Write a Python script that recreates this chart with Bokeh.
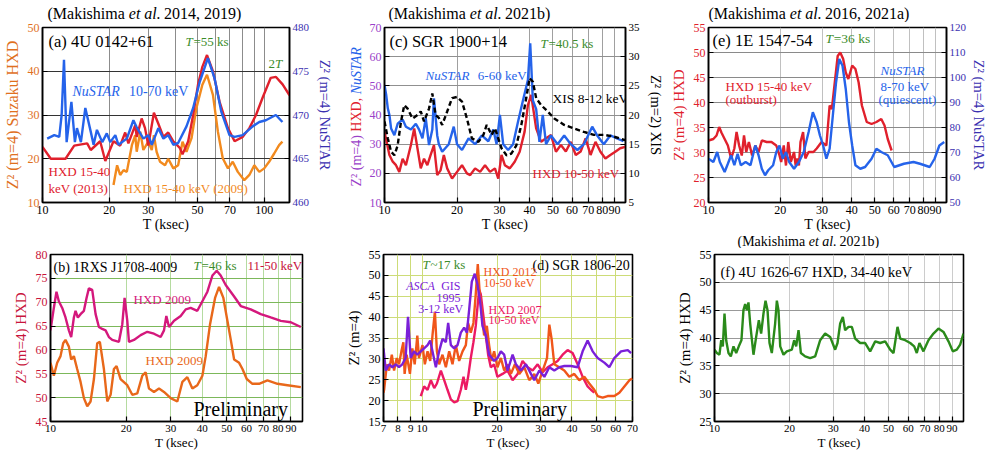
import math
from bokeh.plotting import figure
from bokeh.models import Range1d, LinearAxis, FixedTicker, PrintfTickFormatter, Label
from bokeh.layouts import column, row
from bokeh.embed import file_html
from bokeh.resources import INLINE

FONT = "Liberation Serif"

# ---------------- data ----------------
# (a) 4U 0142+61
A_RED_T = [10, 10.9, 12.7, 13.9, 15.9, 16.5, 18.2, 19.2, 20.9, 22.4, 23.6, 24.4, 26.2, 26.6, 28, 29, 30, 31.8, 33.3, 35.1,
           36.9, 38.9, 41.6, 42.8, 45.4, 47.8, 50.3, 52.6, 55.2, 58.7, 62.9, 68.6, 73.5, 80, 85.7, 91.8, 98.4, 107, 113, 121, 130]
A_RED = [22.7, 20, 20, 23, 23.5, 22, 24, 19.5, 24, 23, 26, 23.5, 27.7, 25, 29.2, 27, 23, 30.5, 28, 25,
         26, 24, 22.5, 21, 24, 30, 37, 41, 43.7, 40, 33, 27, 24, 25, 27, 30, 34, 38.5, 38.7, 37, 34.5]
A_BLUE_T = [10.5, 11.3, 11.9, 12.2, 12.5, 12.85, 13.5, 14.0, 14.3, 14.9, 15.6, 16.5, 17.0, 17.6, 18.6, 19.5, 20.2, 21.3, 22.0, 24.0,
            25.7, 26.6, 28.5, 30.0, 31.1, 33.3, 35.1, 36.9, 38.9, 40.9, 44.6, 47.8, 51.2, 55.7, 59.7, 64.0, 69.7, 73.5, 80, 88.7,
            95.0, 101.7, 112.8, 120.8]
A_BLUE = [467.3, 467.7, 467.5, 470, 476.3, 466.9, 471.5, 466.9, 468.5, 466.9, 470.8, 468.1, 466.6, 468.3, 466.9, 467.9, 466.9, 467.7, 466.6, 467.3,
          469.4, 468.6, 467.3, 467.7, 466.6, 468.5, 467.3, 467.7, 466.6, 466.8, 468.7, 470.8, 473.8, 476.5, 474.2, 470.4, 467.7, 467.5, 467.7, 468.7,
          469.2, 469.4, 470.0, 469.2]
A_ORG_T = [20.9, 21.7, 22.4, 23.2, 24.0, 25.3, 26.2, 26.6, 27.6, 28.5, 30.0, 31.1, 31.8, 32.7, 33.9, 35.7, 36.9, 38.9, 40.9, 42.8,
           44.6, 47.0, 49.4, 52.6, 55.2, 58.7, 61.8, 65.0, 68.6, 72.1, 76.0, 81.3, 85.7, 90.2, 95.0, 100, 105.2, 110.9, 116.7, 120.8]
A_ORG = [14, 18.5, 16.3, 17.4, 17, 23.1, 25.4, 21.6, 26.2, 22, 23.9, 22, 25.4, 21.6, 19.3, 18.5, 20, 17.8, 18.5, 23.9,
         21.6, 24.7, 31.5, 36.9, 39.2, 34.6, 26.2, 20.1, 17.8, 19.3, 17, 15.1, 16.3, 18.5, 17, 17.8, 19.3, 21.2, 23.1, 23.9]

# (c) SGR 1900+14
C_BLUE_T = [10.0, 10.16, 10.32, 10.48, 10.65, 10.99, 11.34, 11.89, 12.27, 12.87, 13.49, 13.92, 14.37, 14.83, 15.30, 15.79, 16.04, 16.55, 16.81, 17.35,
            18.48, 19.38, 20.0, 20.97, 22.33, 23.77, 25.33, 26.97, 28.28, 29.18, 30.12, 31.08, 32.58, 34.16, 35.81, 37.54, 39.36, 40.24, 41.27, 42.59,
            43.95, 45.36, 46.81, 49.07, 52.27, 55.67, 59.29, 63.14, 67.24, 72.75, 76.28, 81.24, 86.50, 92.16, 98.13]
C_BLUE = [50.3, 47, 42.3, 40, 35.4, 33.1, 37, 38.5, 36, 35, 37, 35, 32, 38.9, 29.7, 35, 45.7, 33, 30, 27.4,
          30, 36, 30, 28, 32, 30, 33, 31, 35, 30, 40, 30, 28, 30, 37.7, 45, 52, 64.6, 45, 42,
          30.8, 40, 30, 33, 30, 33, 30, 28, 30, 36, 33, 30, 33, 32, 31]
C_RED_T = [10.0, 10.48, 10.82, 11.16, 11.52, 11.89, 12.27, 12.87, 13.28, 13.70, 14.14, 14.59, 15.06, 15.54, 16.04, 16.55, 17.08, 17.63, 18.20, 19.07,
           20.0, 20.97, 21.98, 22.68, 23.77, 24.93, 26.13, 27.40, 28.73, 29.65, 30.59, 31.57, 33.10, 34.70, 36.38, 38.14, 39.36, 40.62, 41.27, 42.59,
           44.65, 46.81, 49.07, 51.45, 53.94, 56.55, 59.29, 62.15, 65.16, 68.31, 71.61, 75.08, 78.71, 82.53, 86.50, 90.71, 95.08, 99.68]
C_RED = [34.3, 26.3, 24, 22.8, 20.5, 25, 22.8, 29.7, 35.4, 28.6, 21.7, 25, 22.8, 26.3, 29.7, 19.4, 21, 26.3, 21.7, 18.2,
         20.5, 22.8, 20, 19.4, 21.7, 20.5, 22.8, 20.5, 21.7, 18.2, 26.3, 22.8, 21.7, 24, 27.4, 34.3, 43.4, 46.9, 43, 35.4,
         30.8, 32, 33.1, 27.4, 29.7, 27.5, 30.8, 26.3, 27.5, 32, 26.3, 30.8, 27.4, 25.1, 26.3, 27.4, 28.6, 29.1]
C_XIS_T = [10.0, 10.32, 10.65, 10.99, 11.34, 11.71, 12.08, 12.47, 13.07, 13.70, 14.14, 14.59, 15.30, 15.79, 16.29, 16.81, 17.35, 18.20, 19.07, 20.0,
           20.97, 21.98, 23.04, 24.54, 25.73, 26.55, 27.83, 28.73, 29.65, 30.59, 32.08, 33.63, 35.25, 36.96, 38.74, 40.0, 41.27, 42.59, 44.65, 47.55,
           50.64, 55.67, 61.18, 67.24, 73.91, 81.24, 89.29, 99.68]
C_XIS = [18.9, 16, 13.7, 13.1, 14.8, 18.9, 21.7, 21.1, 19.4, 20, 20.6, 18.9, 21.1, 23.7, 20, 19.5, 18.3, 20.6, 22.9, 23.1,
         22.3, 19.4, 16, 15.4, 16.6, 18.3, 16.6, 17.7, 16, 14.3, 13.1, 13.4, 14.8, 18.3, 22.9, 26.3, 25.7, 22.9, 21.7, 20.6,
         19.4, 18.3, 17.7, 17.1, 16.6, 16.6, 16.3, 15.7]

# (e) 1E 1547-54
E_RED_T = [10, 10.48, 10.81, 11.09, 11.33, 11.69, 12.06, 12.45, 12.84, 13.12, 13.45, 13.80, 14.10, 14.41, 14.78, 15.25, 15.73, 16.23, 16.75, 17.55,
           18.39, 19.27, 19.88, 20.20, 20.71, 21.16, 21.63, 22.18, 22.88, 23.24, 23.61, 23.98, 24.35, 24.97, 25.53, 26.34, 27.61, 28.48, 29.86, 31.28,
           32.28, 32.99, 33.82, 34.90, 35.78, 36.80, 37.73, 38.68, 40.16, 41.43, 42.74, 44.11, 46.22, 48.43, 50.76, 53.20, 54.90, 56.64, 58.81]
E_RED = [32.4, 32.7, 33.4, 35.1, 34, 32.7, 31.4, 28.8, 30.8, 34.1, 31.4, 29.4, 33.4, 30.1, 32.1, 29.4, 31.4, 30.1, 32.4, 32.1,
         32.1, 31.4, 29.4, 28.1, 31.4, 27.4, 32.1, 28.1, 30.1, 27.4, 28.8, 27.4, 32.1, 34.1, 28.8, 30.1, 30.1, 30.8, 32.1, 31.4,
         39.4, 38.7, 43.4, 49.3, 50.0, 48.7, 46, 44.7, 47.4, 46.7, 44, 39.4, 36.1, 35.7, 36.1, 36.7, 35.4, 32.7, 30.4]
E_BLUE_T = [10, 10.48, 10.88, 11.16, 11.69, 12.06, 12.45, 12.84, 13.25, 13.67, 14.32, 15.01, 15.73, 16.23, 16.75, 17.28, 17.82, 18.68, 19.27, 19.88,
            20.51, 21.16, 21.83, 22.88, 23.98, 25.13, 26.34, 27.44, 28.48, 29.39, 30.32, 31.28, 32.28, 33.30, 34.36, 35.45, 36.57, 37.73, 38.92, 40.16,
            41.43, 43.42, 45.50, 48.43, 50.76, 53.20, 56.64, 60.30, 66.22, 72.70, 77.38, 85.00, 89.09, 93.35, 97.84]
E_BLUE = [67.5, 66.2, 70.2, 66.2, 62.2, 65.5, 68.9, 64.9, 69.5, 64.9, 66.2, 64.9, 72.8, 68.9, 63.5, 60.9, 62.9, 64.9, 70.2, 72.8,
          67.5, 70.2, 66.2, 63.5, 66.2, 70.2, 78.2, 86.1, 82.1, 76.8, 72.8, 67.5, 71.5, 84.8, 98.1, 107.4, 104.7, 95.4, 82.1, 72.8,
          64.9, 63.5, 64.2, 67.5, 71.5, 70.2, 68.9, 64.2, 65.5, 66.2, 65.5, 64.2, 67.5, 72.8, 74.2]

# (b) 1RXS J1708-4009
B_MAG_T = [10, 10.31, 10.56, 10.79, 11.13, 11.47, 11.83, 12.08, 12.38, 12.57, 12.84, 13.16, 13.57, 13.90, 14.20, 14.64, 15.10, 15.56, 16.04, 16.54,
           17.05, 17.58, 18.69, 19.27, 19.68, 20.17, 20.48, 21.44, 22.79, 24.22, 25.74, 27.36, 28.21, 28.82, 29.53, 30.92, 32.86, 34.40, 35.99, 38.25,
           40.06, 41.94, 43.90, 45.67, 47.36, 49.58, 53.54, 56.89, 62.31, 68.29, 74.82, 82.03, 89.87, 98.49]
B_MAG = [64.1, 68.8, 72.2, 70.2, 68.8, 66.8, 64.1, 62.7, 66.8, 68.2, 66.8, 67.5, 68.2, 70.9, 72.9, 72.6, 67.5, 64.8, 64.4, 64.1,
         62.7, 62.1, 61.7, 65.4, 70.9, 66.1, 61.7, 62.1, 63.1, 63.8, 63.4, 62.7, 64.1, 67.1, 64.8, 66.1, 67.1, 68.5, 68.8, 68.2,
         70.2, 72.2, 75.6, 76.6, 75.6, 73.6, 71.2, 69.2, 68.5, 67.5, 66.8, 66.1, 65.8, 64.8]
B_ORG_T = [10, 10.31, 10.63, 10.96, 11.23, 11.47, 11.83, 12.08, 12.38, 12.76, 13.16, 13.57, 13.99, 14.42, 14.87, 15.32, 15.70, 16.29, 16.80, 17.32,
           17.85, 18.29, 18.97, 20.17, 21.11, 22.10, 23.14, 23.85, 24.59, 25.74, 26.95, 28.21, 29.99, 31.87, 33.37, 34.91, 36.55, 38.25, 40.06, 41.30,
           42.97, 44.98, 46.65, 48.53, 50.35, 51.94, 53.54, 56.04, 57.77, 60.09, 63.27, 67.25, 72.58, 79.56, 87.18, 98.49]
B_ORG = [57.3, 54.6, 57.3, 58.7, 61.4, 62.1, 60.7, 58.0, 58.7, 56.0, 53.3, 49.9, 48.2, 49.2, 53.9, 61.4, 61.7, 56.0, 49.2, 50.6,
         56.0, 56.6, 53.9, 52.6, 50.6, 50.9, 54.6, 55.3, 51.9, 51.2, 51.9, 51.2, 49.9, 49.2, 53.3, 54.3, 51.9, 52.6, 54.6, 58.7,
         65.4, 70.9, 73.2, 70.9, 66.1, 62.1, 58.0, 57.3, 56.0, 53.9, 52.9, 52.9, 53.6, 52.9, 52.6, 52.2]

# (d) SGR 1806-20
D_PUR_T = [7.0, 7.15, 7.37, 7.60, 7.84, 8.08, 8.33, 8.59, 8.78, 9.00, 9.28, 9.57, 9.88, 10.19, 10.52, 10.78, 11.01, 11.36, 11.71, 12.08,
           12.46, 12.73, 13.05, 13.46, 13.88, 14.31, 14.76, 15.13, 15.45, 15.84, 16.28, 16.69, 17.10, 17.48, 18.03, 18.59, 19.47, 20.08, 20.72, 21.37,
           22.04, 23.10, 23.82, 24.94, 26.13, 27.37, 28.23, 29.57, 30.98, 32.44, 33.96, 35.57, 37.26, 39.61, 42.14, 44.14, 46.22, 48.42, 50.71, 53.94,
           56.48, 59.17, 62.93, 67.01, 69.10]
D_PUR = [32.5, 27.2, 28.7, 28, 28.7, 28, 28.7, 30.2, 40.1, 30.2, 31.8, 31, 31.8, 32.5, 33.3, 34.4, 31.8, 28, 31.8, 34.8,
         34, 38.6, 33.3, 32.5, 33.3, 36.3, 37.5, 36.3, 41.7, 48.5, 50.4, 47.8, 43.9, 37.9, 35.6, 31, 29.5, 30.2, 31.8, 31,
         27.2, 31, 28.7, 27.2, 28.7, 26.4, 24.9, 27.2, 25.7, 28, 27.2, 28, 28.3, 28.3, 28, 31.8, 34.4, 31.8, 30.2, 29.1,
         28, 30.2, 31.8, 32.1, 31.4]
D_ORG_T = [7.0, 7.04, 7.22, 7.37, 7.56, 7.72, 7.91, 8.08, 8.26, 8.41, 8.51, 8.67, 8.94, 9.14, 9.34, 9.57, 9.72, 10.04, 10.26, 10.52,
           10.78, 11.01, 11.26, 11.47, 11.71, 12.08, 12.46, 12.85, 13.25, 13.66, 14.09, 14.54, 14.99, 15.31, 15.69, 16.08, 16.43, 16.74, 17.05, 17.37,
           17.75, 18.20, 18.59, 19.00, 19.47, 20.08, 20.72, 21.37, 22.04, 22.74, 23.60, 24.56, 25.73, 26.95, 28.23, 29.30, 30.50, 31.75, 32.44, 33.13,
           33.96, 35.57, 37.26, 39.01, 40.86, 42.80, 44.83, 46.94, 49.16, 50.71, 53.11, 55.62, 59.17, 61.97, 64.94, 68.05, 70.0]
D_ORG = [21.9, 22.6, 28.7, 27.2, 31, 27.2, 30.2, 28.7, 31.8, 34, 26.4, 31, 26.4, 32.5, 28.7, 35.6, 30.2, 33.3, 28.7, 31.8,
         29.5, 35.6, 41.3, 31.8, 28.7, 31, 28, 31.8, 28.7, 33.3, 29.5, 31.8, 33.3, 38.6, 36.3, 38.6, 45.5, 52.7, 45.5, 40.9,
         35.6, 37.9, 33.3, 29.5, 31.8, 28, 30.2, 27.2, 28.7, 26.4, 28.7, 26.4, 28, 24.9, 26.4, 24.1, 27.2, 30.2, 38.2, 34.8,
         28.7, 28, 27.2, 25.7, 26.4, 24.9, 25.7, 24.1, 22.6, 21.1, 20.7, 21.1, 21.1, 21.9, 23.4, 24.9, 25.3]
D_PINK_T = [9.88, 10.19, 10.52, 10.85, 11.19, 11.47, 11.90, 12.27, 12.65, 13.05, 13.46, 13.88, 14.31, 14.67, 14.99, 15.31, 15.69, 16.08, 16.43, 16.69,
            16.95, 17.21, 17.58, 18.03, 18.42, 18.88, 19.47, 20.08, 21.04, 22.04, 23.10, 24.19, 25.33, 26.54, 27.80, 29.12, 30.50, 31.94, 33.44, 35.02,
            36.69, 38.41, 40.23, 42.14, 44.14, 46.22, 47.67, 49.16]
D_PINK = [21.1, 23.4, 22.6, 24.9, 23, 24.1, 27.2, 24.9, 22.6, 20.3, 19.6, 19.9, 22.6, 25.7, 22.6, 25.7, 30.2, 34, 37.9, 42.4,
          46.6, 45.5, 40.9, 35.6, 31, 28, 28.7, 25.7, 26.4, 27.2, 24.9, 26.4, 29.5, 28, 27.2, 28.7, 26.8, 28, 28.7, 29.5,
          31, 32.1, 31.4, 28.7, 25.7, 23.4, 22.6, 21.9]

# (f) 4U 1626-67
F_T = [10, 10.22, 10.47, 10.64, 10.80, 10.97, 11.14, 11.38, 11.63, 11.92, 12.22, 12.52, 12.83, 13.07, 13.28, 13.49, 13.69, 13.91, 14.34, 14.70,
       15.07, 15.39, 15.73, 16.03, 16.33, 16.63, 16.99, 17.52, 17.80, 18.07, 18.36, 18.93, 19.52, 20.44, 20.89, 21.28, 21.75, 22.23, 23.12, 24.22,
       25.37, 26.57, 27.82, 29.14, 30.52, 31.19, 31.97, 32.77, 33.47, 34.53, 35.61, 36.73, 38.46, 40.28, 42.19, 44.20, 46.28, 48.47, 50.76, 52.35,
       54.32, 55.69, 58.33, 61.09, 63.39, 64.92, 66.54, 69.04, 72.31, 75.74, 79.33, 83.10, 87.03, 90.60, 94.02, 96.96, 100]
F_Z = [37.9, 37.3, 37, 39.6, 38.5, 44.4, 39.6, 37.3, 36.7, 38.5, 37.3, 38.5, 39.6, 45, 46.1, 45, 46.4, 42.6, 37, 40.2,
       43.2, 40.8, 44.4, 46.7, 45, 39.1, 37.3, 42.6, 46.7, 45, 38.5, 37, 37.6, 37.9, 39.6, 38.5, 41.4, 37.3, 36.7, 36.4,
       36.7, 39.6, 40.8, 40.2, 37.9, 39.1, 42.6, 43.8, 41.4, 42, 42, 39.9, 39.1, 39.1, 37.6, 39.4, 39.1, 39.4, 37.9, 37.3,
       42, 39.9, 39.6, 39.1, 38.5, 37.3, 39.1, 37.6, 39.6, 40.8, 41.7, 41.1, 39.4, 37.6, 37.9, 38.8, 40.8]

# tick values
XT_A = [10, 20, 30, 50, 70, 100]
XT_STD = [10, 20, 30, 40, 50, 60, 70, 80, 90]
XT_D = [7, 8, 9, 10, 20, 30, 40, 50, 60, 70]
YT_A_L = [10, 20, 30, 40, 50]
YT_A_R = [460, 465, 470, 475, 480]
YT_C_L = [10, 20, 30, 40, 50, 60, 70]
YT_C_R = [5, 10, 15, 20, 25, 30, 35]
YT_E_L = [20, 25, 30, 35, 40, 45, 50, 55]
YT_E_R = [50, 60, 70, 80, 90, 100, 110, 120]
YT_B = [45, 50, 55, 60, 65, 70, 75, 80]
YT_D = [15, 20, 25, 30, 35, 40, 45, 50, 55]
YT_F = [25, 30, 35, 40, 45, 50, 55]

# ---------------- colours ----------------
K = "black"
RED = "#e0202c"
BLUE = "#2563ea"
ORANGE = "#f28a1e"
INDIGO = "#3a30b0"
ORANGE_T = "#e0701e"
PURPLE_T = "#9a40c8"
GREEN = "#3a8c2a"
MAGENTA = "#d4187c"
ORANGE_B = "#e8681a"
CRIMSON = "#c8143c"
PURPLE_D = "#7a20d8"
ORANGE_D = "#f0561a"
PINK_D = "#ec1a64"
GREEN_F = "#2a8a1a"

WID = {' ': 250, '(': 333, ')': 333, ',': 250, '.': 250, '-': 333, '=': 564, '+': 564, '~': 541, '²': 300,
       'A': 722, 'C': 667, 'D': 722, 'E': 611, 'G': 722, 'H': 722, 'I': 333, 'J': 389, 'M': 889, 'N': 722,
       'P': 556, 'R': 667, 'S': 556, 'T': 611, 'U': 722, 'X': 722, 'Z': 611,
       'a': 444, 'b': 500, 'c': 444, 'd': 500, 'e': 444, 'f': 333, 'h': 500, 'i': 278, 'k': 500, 'l': 278,
       'm': 778, 'n': 500, 'o': 500, 'p': 500, 'r': 333, 's': 389, 't': 278, 'u': 500, 'v': 500, 'y': 500, 'z': 444}


def tw(s, size):
    return sum(WID.get(ch, 500) for ch in s) * size / 1000.0


def put(p, sx, sy, parts, size, angle=0.0, align="left"):
    total = sum(tw(t, size) for t, _, _ in parts)
    off = {"left": 0.0, "center": -total / 2, "right": -total}[align]
    for t, col, st in parts:
        s = t.strip()
        lead = tw(t[:len(t) - len(t.lstrip())], size)
        if s:
            if angle:
                x, y = sx, sy + off + lead
            else:
                x, y = sx + off + lead, sy
            p.add_layout(Label(x=x, y=y, x_units="screen", y_units="screen", text=s,
                               text_font=FONT, text_font_size=f"{size}px", text_color=col,
                               text_font_style=st, text_align="left", text_baseline="middle",
                               angle=angle))
        off += tw(t, size)


def blank(w, h):
    p = figure(width=w, height=h, x_range=Range1d(0, 1), y_range=Range1d(0, 1),
               output_backend="svg", toolbar_location=None,
               x_axis_location=None, y_axis_location=None,
               min_border_left=0, min_border_right=0, min_border_top=0, min_border_bottom=0)
    p.outline_line_color = None
    p.xgrid.visible = False
    p.ygrid.visible = False
    p.background_fill_color = "white"
    p.border_fill_color = "white"
    return p


def style_axis(ax, color, label="", label_color=K, tick_size="12px", label_size="15px", lstand=3):
    ax.axis_label = label
    ax.axis_label_text_font = FONT
    ax.axis_label_text_font_size = label_size
    ax.axis_label_text_font_style = "normal"
    ax.axis_label_text_color = label_color
    ax.axis_label_standoff = lstand
    ax.major_label_text_font = FONT
    ax.major_label_text_font_size = tick_size
    ax.major_label_text_color = color
    ax.major_label_standoff = 3
    ax.major_tick_in = 5
    ax.major_tick_out = 0
    ax.minor_tick_in = 0
    ax.minor_tick_out = 0
    ax.axis_line_color = K
    ax.axis_line_width = 1.5
    ax.major_tick_line_color = K
    ax.major_tick_line_width = 1.2


def panel(w, h, borders, xr, yr, xt, yt, xg, yg, xgc, ygc, ytc, ylab, ylabc, ylab_size="15px",
          xtick_size="12px", xlab_size="14px"):
    l, r, t, b = borders
    p = figure(width=w, height=h, x_axis_type="log", x_range=Range1d(*xr), y_range=Range1d(*yr),
               output_backend="svg", toolbar_location=None,
               min_border_left=l, min_border_right=r, min_border_top=t, min_border_bottom=b)
    p.background_fill_color = "white"
    p.border_fill_color = "white"
    p.outline_line_color = K
    p.outline_line_width = 1.6
    p.outline_line_alpha = 1.0
    p.xaxis.ticker = FixedTicker(ticks=xt, minor_ticks=[])
    p.xaxis.formatter = PrintfTickFormatter(format="%d")
    p.yaxis.ticker = FixedTicker(ticks=yt, minor_ticks=[])
    style_axis(p.xaxis[0], K, "T (ksec)", K, tick_size=xtick_size, label_size=xlab_size, lstand=0)
    style_axis(p.yaxis[0], ytc, ylab, ylabc, label_size=ylab_size, lstand=4)
    p.xgrid.ticker = FixedTicker(ticks=xg, minor_ticks=[])
    p.ygrid.ticker = FixedTicker(ticks=yg, minor_ticks=[])
    p.xgrid.grid_line_color = xgc
    p.ygrid.grid_line_color = ygc
    p.xgrid.grid_line_width = 1
    p.ygrid.grid_line_width = 1
    return p


def right_axis(p, rng, ticks, color, label, label_color, lstand=4):
    p.extra_y_ranges = {"r": Range1d(*rng)}
    ax = LinearAxis(y_range_name="r", ticker=FixedTicker(ticks=ticks, minor_ticks=[]))
    style_axis(ax, color, label, label_color, tick_size="11px", label_size="14.5px", lstand=lstand)
    p.add_layout(ax, "right")
    return ax


LW = 2.4
TOP_H = 212   # page y 22..234
BOT_H = 204   # page y 248..452

# ---------------- title strip (top) ----------------
tstrip = blank(990, 22)
put(tstrip, 47, 9.5, [("(Makishima ", K, "normal"), ("et al.", K, "italic"), (" 2014, 2019)", K, "normal")], 16)
put(tstrip, 388, 9.5, [("(Makishima ", K, "normal"), ("et al.", K, "italic"), (" 2021b)", K, "normal")], 16)
put(tstrip, 708, 9.5, [("(Makishima ", K, "normal"), ("et al.", K, "italic"), (" 2016, 2021a)", K, "normal")], 16)

# ---------------- (a) ----------------
pa = panel(336, TOP_H, (42, 44, 5, 32), (10, 130), (10, 50), XT_A, YT_A_L,
           [20, 30, 40, 50, 60, 70, 80, 90, 100], [20, 30, 40], "#8c8c8c", "#333333",
           ORANGE_T, "Z² (m=4) Suzaku HXD", ORANGE_T, ylab_size="16px")
right_axis(pa, (460, 480), YT_A_R, INDIGO, "Z² (m=4) NuSTAR", INDIGO, lstand=5)
pa.line(A_ORG_T, A_ORG, line_color=ORANGE, line_width=LW)
pa.line(A_RED_T, A_RED, line_color=RED, line_width=LW)
pa.line(A_BLUE_T, A_BLUE, line_color=BLUE, line_width=LW, y_range_name="r")
put(pa, 6, 161, [("(a) 4U 0142+61", K, "normal")], 16.5)
put(pa, 143, 161, [("T", GREEN, "italic"), ("=55 ks", GREEN, "normal")], 13)
put(pa, 226, 139, [("2", GREEN, "normal"), ("T", GREEN, "italic")], 13)
put(pa, 30, 111, [("NuSTAR", BLUE, "italic"), (" 10-70 keV", BLUE, "normal")], 14)
put(pa, 6, 31, [("HXD 15-40", RED, "normal")], 13)
put(pa, 6, 14, [("keV (2013)", RED, "normal")], 13)
put(pa, 81, 14, [("HXD 15-40 keV (2009)", ORANGE, "normal")], 13)

# ---------------- strip with the multi-coloured label of (c) ----------------
cstrip = blank(30, TOP_H)
put(cstrip, 20, 16, [("Z² (m=4) ", PURPLE_T, "normal"), ("HXD, ", RED, "normal"), ("NuSTAR", BLUE, "italic")],
    14, angle=math.pi / 2)

# ---------------- (c) ----------------
pc = panel(300, TOP_H, (16, 39, 5, 32), (10, 100), (10, 70), XT_STD, YT_C_L,
           [20, 30, 40, 50, 60, 70, 80, 90], [20, 30, 40, 50, 60], "#a0a0a0", "#909090",
           PURPLE_T, "", K)
right_axis(pc, (5, 35), YT_C_R, K, "Z² (m=2) XIS", K, lstand=5)
pc.line(C_RED_T, C_RED, line_color=RED, line_width=LW)
pc.line(C_BLUE_T, C_BLUE, line_color=BLUE, line_width=LW)
pc.line(C_XIS_T, C_XIS, line_color=K, line_width=LW, line_dash="5 3", y_range_name="r")
put(pc, 5, 161, [("(c) SGR 1900+14", K, "normal")], 16.5)
put(pc, 156, 159, [("T", GREEN, "italic"), ("=40.5 ks", GREEN, "normal")], 13)
put(pc, 41, 127, [("NuSTAR", BLUE, "italic"), (" 6-60 keV", BLUE, "normal")], 13)
put(pc, 168, 104, [("XIS 8-12 keV", K, "normal")], 13.5)
put(pc, 148, 29, [("HXD 10-50 keV", RED, "normal")], 13)

# ---------------- (e) ----------------
pe = panel(324, TOP_H, (42, 37, 5, 32), (10, 100), (20, 55), XT_STD, YT_E_L,
           [20, 30, 40, 50, 60, 70, 80, 90], [25, 30, 35, 40, 45, 50], "#c0c0c0", "#8a8a8a",
           RED, "Z² (m=4) HXD", RED)
right_axis(pe, (50, 120), YT_E_R, INDIGO, "Z² (m=4) NuSTAR", INDIGO, lstand=2)
pe.line(E_RED_T, E_RED, line_color=RED, line_width=LW)
pe.line(E_BLUE_T, E_BLUE, line_color=BLUE, line_width=LW, y_range_name="r")
put(pe, 4, 162, [("(e) 1E 1547-54", K, "normal")], 16.5)
put(pe, 117, 164, [("T", GREEN, "italic"), ("=36 ks", GREEN, "normal")], 13.5)
put(pe, 17, 116, [("HXD 15-40 keV", RED, "normal")], 13)
put(pe, 17, 103, [("(outburst)", RED, "normal")], 13)
put(pe, 172, 132, [("NuSTAR", BLUE, "italic")], 13)
put(pe, 172, 116, [("8-70 keV", BLUE, "normal")], 13)
put(pe, 170, 103, [("(quiescent)", BLUE, "normal")], 13)

# ---------------- strip with the title of (f) ----------------
bstrip = blank(990, 14)
put(bstrip, 737, 7, [("(Makishima ", K, "normal"), ("et al.", K, "italic"), (" 2021b)", K, "normal")], 14)

BT = dict(xtick_size="11px", xlab_size="13px")

# ---------------- (b) ----------------
pb = panel(340, BOT_H, (50, 38, 6, 31), (10, 100), (45, 80), XT_STD, YT_B,
           [20, 30, 40, 50, 60, 70, 80, 90], [50, 55, 60, 65, 70, 75], "#b5dba0", "#7cb85a",
           CRIMSON, "Z² (m=4) HXD", CRIMSON, **BT)
pb.line(B_MAG_T, B_MAG, line_color=MAGENTA, line_width=LW)
pb.line(B_ORG_T, B_ORG, line_color=ORANGE_B, line_width=LW)
put(pb, 3, 154, [("(b) 1RXS J1708-4009", K, "normal")], 14)
put(pb, 143, 156, [("T", GREEN, "italic"), ("=46 ks", GREEN, "normal")], 13)
put(pb, 197, 156, [("11-50 keV", CRIMSON, "normal")], 13)
put(pb, 83, 122, [("HXD 2009", MAGENTA, "normal")], 13)
put(pb, 95, 61, [("HXD 2009", ORANGE_B, "normal")], 13)
put(pb, 143, 13, [("Preliminary", K, "normal")], 20)

# ---------------- (d) ----------------
pd_ = panel(330, BOT_H, (43, 38, 6, 31), (7, 70), (15, 55), XT_D, YT_D,
            [8, 9, 10, 20, 30, 40, 50, 60], [20, 25, 30, 35, 40, 45, 50], "#cddc78", "#cddc78",
            K, "Z² (m=4)", K, **BT)
pd_.line(D_PINK_T, D_PINK, line_color=PINK_D, line_width=LW)
pd_.line(D_ORG_T, D_ORG, line_color=ORANGE_D, line_width=LW)
pd_.line(D_PUR_T, D_PUR, line_color=PURPLE_D, line_width=LW)
put(pd_, 149, 156, [("(d) SGR 1806-20", K, "normal")], 14)
put(pd_, 39, 157, [("T", GREEN, "italic"), ("~17 ks", GREEN, "normal")], 13)
put(pd_, 77, 136, [("ASCA", PURPLE_D, "italic"), (" GIS", PURPLE_D, "normal")], 12, align="right")
put(pd_, 77, 124, [("1995", PURPLE_D, "normal")], 12, align="right")
put(pd_, 77, 113, [("3-12 keV", PURPLE_D, "normal")], 12, align="right")
put(pd_, 100, 150, [("HXD 2012", ORANGE_D, "normal")], 12)
put(pd_, 100, 139, [("10-50 keV", ORANGE_D, "normal")], 12)
put(pd_, 105, 112, [("HXD 2007", PINK_D, "normal")], 12)
put(pd_, 105, 102, [("10-50 keV", PINK_D, "normal")], 12)
put(pd_, 89, 13, [("Preliminary", K, "normal")], 20)

# ---------------- (f) ----------------
pf = panel(320, BOT_H, (44, 27, 6, 31), (10, 100), (25, 55), XT_STD, YT_F,
           [20, 30, 40, 50, 60, 70, 80, 90], [30, 35, 40, 45, 50], "#cccccc", "#999999",
           K, "Z² (m=4) HXD", K, **BT)
pf.line(F_T, F_Z, line_color=GREEN_F, line_width=LW)
put(pf, 6, 150, [("(f) 4U 1626-67 HXD, 34-40 keV", K, "normal")], 14.5)

layout = column(tstrip,
                row(pa, cstrip, pc, pe),
                bstrip,
                row(pb, pd_, pf))
open("out.html", "w").write(file_html(layout, INLINE))
